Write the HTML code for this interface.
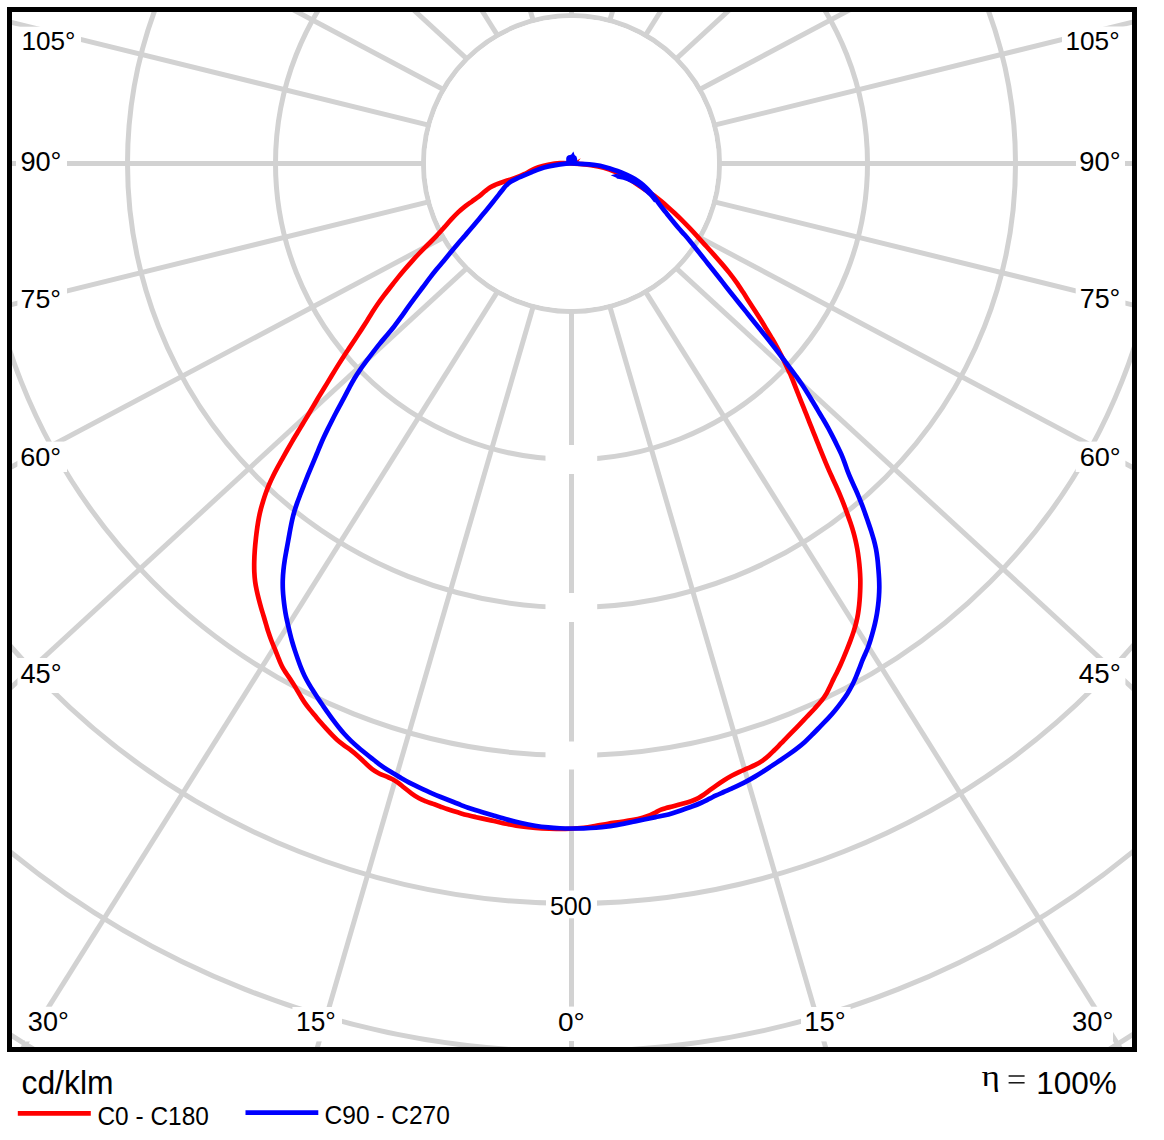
<!DOCTYPE html>
<html><head><meta charset="utf-8"><style>
html,body{margin:0;padding:0;background:#fff;}
body{width:1164px;height:1140px;overflow:hidden;position:relative;font-family:"Liberation Sans",sans-serif;}
svg{position:absolute;left:0;top:0;display:block;}
</style></head><body>
<svg width="1164" height="1140" viewBox="0 0 1164 1140">
<defs><clipPath id="cl"><rect x="12" y="12" width="1120" height="1035"/></clipPath></defs>
<rect x="0" y="0" width="1164" height="1140" fill="#fff"/>
<g clip-path="url(#cl)">
<g stroke="#d2d2d2" stroke-width="5" fill="none"><line x1="571.50" y1="311.50" x2="571.50" y2="1783.50"/><line x1="533.19" y1="306.46" x2="119.08" y2="1728.30"/><line x1="497.50" y1="291.67" x2="-302.50" y2="1566.46"/><line x1="466.85" y1="268.15" x2="-664.52" y2="1309.01"/><line x1="443.33" y1="237.50" x2="-942.31" y2="973.50"/><line x1="428.54" y1="201.81" x2="-1116.94" y2="582.79"/><line x1="423.50" y1="163.50" x2="-1176.50" y2="163.50"/><line x1="428.54" y1="125.19" x2="-1116.94" y2="-255.79"/><line x1="443.33" y1="89.50" x2="-942.31" y2="-646.50"/><line x1="466.85" y1="58.85" x2="-664.52" y2="-982.01"/><line x1="497.50" y1="35.33" x2="-302.50" y2="-1239.46"/><line x1="533.19" y1="20.54" x2="119.08" y2="-1401.30"/><line x1="571.50" y1="15.50" x2="571.50" y2="-1456.50"/><line x1="609.81" y1="20.54" x2="1023.92" y2="-1401.30"/><line x1="645.50" y1="35.33" x2="1445.50" y2="-1239.46"/><line x1="676.15" y1="58.85" x2="1807.52" y2="-982.01"/><line x1="699.67" y1="89.50" x2="2085.31" y2="-646.50"/><line x1="714.46" y1="125.19" x2="2259.94" y2="-255.79"/><line x1="719.50" y1="163.50" x2="2319.50" y2="163.50"/><line x1="714.46" y1="201.81" x2="2259.94" y2="582.79"/><line x1="699.67" y1="237.50" x2="2085.31" y2="973.50"/><line x1="676.15" y1="268.15" x2="1807.52" y2="1309.01"/><line x1="645.50" y1="291.67" x2="1445.50" y2="1566.46"/><line x1="609.81" y1="306.46" x2="1023.92" y2="1728.30"/><circle cx="571.5" cy="163.5" r="148.0"/><circle cx="571.5" cy="163.5" r="296.0"/><circle cx="571.5" cy="163.5" r="444.0"/><circle cx="571.5" cy="163.5" r="592.0"/><circle cx="571.5" cy="163.5" r="740.0"/><circle cx="571.5" cy="163.5" r="888.0"/><circle cx="571.5" cy="163.5" r="1036.0"/></g>
<circle cx="571.5" cy="163.5" r="145.5" fill="#fff"/>
<g fill="#fff"><rect x="16.0" y="26.7" width="65.0" height="30.3"/><rect x="16.0" y="146.0" width="51.0" height="31.0"/><rect x="17.4" y="283.0" width="49.6" height="31.0"/><rect x="17.4" y="441.6" width="49.6" height="30.4"/><rect x="17.5" y="658.0" width="49.5" height="35.0"/><rect x="1062.0" y="26.5" width="64.0" height="30.5"/><rect x="1076.0" y="146.0" width="49.0" height="31.0"/><rect x="1075.7" y="283.0" width="49.7" height="31.0"/><rect x="1075.7" y="441.6" width="49.7" height="30.4"/><rect x="1075.7" y="658.0" width="49.7" height="35.0"/><rect x="25.0" y="1006.7" width="55.0" height="34.8"/><rect x="292.4" y="1007.0" width="49.6" height="34.4"/><rect x="544.0" y="1006.6" width="48.0" height="34.4"/><rect x="801.0" y="1007.0" width="49.6" height="34.4"/><rect x="1063.0" y="1006.7" width="50.0" height="34.8"/><rect x="545.5" y="445.0" width="51.7" height="29.0"/><rect x="545.5" y="593.0" width="51.7" height="29.0"/><rect x="545.5" y="741.5" width="51.7" height="28.0"/><rect x="546.0" y="890.5" width="51.0" height="27.8"/></g>
<g fill="#000"><text transform="translate(21.44 49.63) scale(0.9804 1)" font-size="26.62" font-family="Liberation Sans">105°</text><text transform="translate(20.38 170.83) scale(1.0054 1)" font-size="27.04" font-family="Liberation Sans">90°</text><text transform="translate(20.56 307.64) scale(1.0089 1)" font-size="26.48" font-family="Liberation Sans">75°</text><text transform="translate(20.25 466.44) scale(1.0224 1)" font-size="26.48" font-family="Liberation Sans">60°</text><text transform="translate(20.42 682.73) scale(1.0175 1)" font-size="26.76" font-family="Liberation Sans">45°</text><text transform="translate(1065.43 49.54) scale(1.0002 1)" font-size="26.20" font-family="Liberation Sans">105°</text><text transform="translate(1079.37 170.83) scale(1.0107 1)" font-size="27.04" font-family="Liberation Sans">90°</text><text transform="translate(1079.76 307.83) scale(0.9984 1)" font-size="26.90" font-family="Liberation Sans">75°</text><text transform="translate(1079.64 466.44) scale(1.0251 1)" font-size="26.48" font-family="Liberation Sans">60°</text><text transform="translate(1078.81 682.73) scale(1.0358 1)" font-size="26.76" font-family="Liberation Sans">45°</text><text transform="translate(27.82 1030.63) scale(1.0124 1)" font-size="26.76" font-family="Liberation Sans">30°</text><text transform="translate(296.03 1030.83) scale(0.9811 1)" font-size="26.76" font-family="Liberation Sans">15°</text><text transform="translate(557.88 1030.54) scale(1.0601 1)" font-size="26.48" font-family="Liberation Sans">0°</text><text transform="translate(804.24 1030.73) scale(1.0246 1)" font-size="26.76" font-family="Liberation Sans">15°</text><text transform="translate(1072.10 1030.73) scale(1.0256 1)" font-size="26.76" font-family="Liberation Sans">30°</text><text transform="translate(549.90 914.53) scale(0.9433 1)" font-size="26.62" font-family="Liberation Sans">500</text></g>
<path d="M571.00 163.30 C567.67 163.17 563.84 162.94 560.00 163.20 C556.16 163.46 551.57 164.19 547.97 164.85 C544.38 165.51 541.23 166.22 538.45 167.15 C535.67 168.08 533.69 169.22 531.30 170.40 C528.91 171.58 526.61 173.04 524.12 174.23 C521.64 175.41 518.91 176.55 516.40 177.50 C513.89 178.45 511.42 179.16 509.07 179.95 C506.73 180.74 504.53 181.46 502.30 182.25 C500.07 183.04 497.75 183.84 495.70 184.70 C493.65 185.56 491.76 186.30 489.97 187.40 C488.19 188.50 486.82 189.80 485.00 191.30 C483.18 192.80 481.17 194.71 479.02 196.38 C476.88 198.04 474.42 199.64 472.10 201.30 C469.78 202.96 467.44 204.48 465.10 206.32 C462.76 208.17 460.42 210.15 458.08 212.38 C455.73 214.60 453.37 217.11 451.02 219.65 C448.68 222.19 446.34 225.01 444.00 227.62 C441.66 230.24 439.20 233.00 437.00 235.35 C434.80 237.70 432.72 239.79 430.77 241.75 C428.83 243.71 427.27 245.17 425.33 247.12 C423.38 249.08 421.30 251.18 419.10 253.50 C416.90 255.83 414.43 258.50 412.10 261.07 C409.77 263.65 407.43 266.26 405.10 268.98 C402.77 271.69 400.44 274.49 398.10 277.38 C395.76 280.26 393.42 283.29 391.08 286.30 C388.73 289.31 386.30 292.39 384.02 295.42 C381.75 298.46 379.41 301.62 377.40 304.52 C375.39 307.43 373.69 310.16 371.98 312.85 C370.26 315.54 368.86 317.88 367.10 320.68 C365.34 323.47 363.40 326.52 361.40 329.62 C359.40 332.73 357.17 336.17 355.10 339.30 C353.03 342.43 350.96 345.45 348.98 348.43 C346.99 351.40 345.08 354.22 343.18 357.17 C341.27 360.12 339.42 363.06 337.52 366.12 C335.62 369.19 333.57 372.61 331.77 375.58 C329.98 378.54 328.27 381.41 326.75 383.90 C325.23 386.39 324.12 388.14 322.67 390.50 C321.23 392.86 319.69 395.35 318.07 398.05 C316.46 400.75 314.69 403.80 313.00 406.67 C311.31 409.55 309.65 412.38 307.93 415.28 C306.20 418.17 304.41 421.10 302.65 424.02 C300.89 426.95 299.11 429.87 297.35 432.80 C295.59 435.73 293.78 438.69 292.07 441.60 C290.37 444.51 288.73 447.38 287.10 450.25 C285.48 453.12 283.92 455.96 282.32 458.82 C280.73 461.69 279.09 464.59 277.55 467.45 C276.01 470.31 274.48 473.18 273.10 475.98 C271.72 478.77 270.42 481.51 269.25 484.23 C268.08 486.94 267.06 489.56 266.07 492.27 C265.09 494.99 264.19 497.73 263.32 500.50 C262.46 503.27 261.62 506.05 260.88 508.92 C260.13 511.80 259.47 514.68 258.88 517.72 C258.28 520.77 257.81 523.85 257.32 527.20 C256.84 530.55 256.39 534.04 255.97 537.80 C255.56 541.56 255.11 545.80 254.83 549.75 C254.54 553.70 254.33 557.80 254.25 561.50 C254.17 565.20 254.18 568.63 254.32 571.95 C254.47 575.27 254.71 578.35 255.10 581.40 C255.49 584.45 256.06 587.27 256.68 590.23 C257.29 593.18 258.02 596.13 258.77 599.10 C259.53 602.07 260.37 605.15 261.20 608.05 C262.03 610.95 262.94 613.77 263.75 616.50 C264.56 619.23 265.30 621.80 266.07 624.40 C266.85 627.00 267.52 629.50 268.38 632.10 C269.23 634.70 270.15 637.29 271.18 639.97 C272.20 642.66 273.40 645.51 274.50 648.23 C275.60 650.94 276.81 653.87 277.77 656.28 C278.74 658.68 279.48 660.77 280.30 662.67 C281.12 664.58 281.69 665.90 282.70 667.70 C283.71 669.50 284.97 671.36 286.38 673.50 C287.78 675.64 289.54 678.12 291.12 680.55 C292.71 682.98 294.37 685.59 295.90 688.10 C297.43 690.61 298.84 693.20 300.30 695.62 C301.76 698.05 303.13 700.38 304.67 702.62 C306.22 704.87 307.85 706.94 309.57 709.10 C311.30 711.26 313.16 713.40 315.00 715.60 C316.84 717.80 318.76 720.16 320.60 722.30 C322.44 724.44 324.23 726.48 326.02 728.45 C327.82 730.43 329.48 732.23 331.35 734.15 C333.23 736.07 335.16 738.09 337.27 739.95 C339.39 741.81 341.72 743.56 344.02 745.30 C346.32 747.04 348.73 748.57 351.08 750.38 C353.42 752.18 355.76 754.08 358.10 756.15 C360.44 758.22 362.77 760.64 365.10 762.80 C367.43 764.96 369.77 767.32 372.10 769.10 C374.43 770.88 376.76 772.25 379.10 773.48 C381.44 774.70 383.90 775.48 386.13 776.45 C388.35 777.42 390.50 778.23 392.48 779.28 C394.45 780.32 396.00 781.29 397.98 782.70 C399.95 784.11 402.01 785.92 404.30 787.73 C406.59 789.53 409.27 791.79 411.73 793.55 C414.18 795.31 416.63 796.96 419.02 798.27 C421.42 799.59 423.73 800.49 426.08 801.42 C428.42 802.36 430.76 803.04 433.10 803.88 C435.44 804.71 437.77 805.57 440.10 806.42 C442.43 807.27 444.77 808.16 447.10 808.98 C449.43 809.79 451.76 810.58 454.10 811.33 C456.44 812.07 458.78 812.77 461.13 813.42 C463.47 814.08 465.88 814.70 468.18 815.27 C470.47 815.85 472.47 816.35 474.90 816.90 C477.32 817.45 479.55 817.91 482.73 818.60 C485.90 819.29 490.13 820.17 493.98 821.02 C497.82 821.87 502.09 822.92 505.77 823.70 C509.46 824.47 512.38 825.09 516.10 825.67 C519.83 826.26 523.81 826.76 528.12 827.22 C532.44 827.69 537.29 828.16 541.98 828.45 C546.66 828.74 551.47 828.92 556.23 828.98 C560.98 829.03 565.91 828.98 570.50 828.77 C575.09 828.57 579.50 828.23 583.75 827.75 C588.00 827.27 591.96 826.54 596.00 825.88 C600.04 825.21 604.00 824.40 608.00 823.75 C612.00 823.10 616.01 822.60 620.02 822.00 C624.04 821.40 628.31 820.85 632.08 820.15 C635.84 819.45 639.60 818.64 642.60 817.82 C645.60 817.01 647.90 816.17 650.10 815.25 C652.30 814.33 654.00 813.22 655.83 812.30 C657.65 811.38 659.32 810.40 661.02 809.70 C662.73 809.00 664.14 808.62 666.05 808.08 C667.96 807.53 669.90 807.08 672.48 806.40 C675.05 805.72 678.44 804.85 681.52 803.97 C684.61 803.10 688.20 802.15 691.00 801.17 C693.80 800.20 696.22 799.17 698.33 798.10 C700.43 797.03 701.89 795.94 703.65 794.73 C705.41 793.51 706.88 792.28 708.90 790.80 C710.93 789.32 713.33 787.54 715.80 785.83 C718.27 784.11 721.07 782.17 723.70 780.50 C726.33 778.82 728.97 777.22 731.60 775.77 C734.23 774.33 736.87 773.04 739.50 771.83 C742.13 770.61 744.77 769.62 747.40 768.47 C750.03 767.32 752.77 766.24 755.30 764.92 C757.83 763.61 760.33 762.16 762.60 760.58 C764.87 758.99 766.95 757.15 768.90 755.42 C770.85 753.70 772.66 751.85 774.30 750.25 C775.94 748.65 777.15 747.42 778.73 745.80 C780.30 744.18 781.76 742.62 783.78 740.55 C785.79 738.48 788.31 735.94 790.80 733.40 C793.29 730.86 796.07 728.03 798.70 725.30 C801.33 722.57 803.97 719.76 806.60 717.00 C809.23 714.24 812.00 711.45 814.50 708.72 C817.00 706.00 819.57 703.25 821.60 700.65 C823.63 698.05 825.26 695.57 826.70 693.12 C828.14 690.68 829.08 688.37 830.23 686.00 C831.38 683.63 832.45 681.25 833.60 678.90 C834.75 676.55 835.99 674.25 837.12 671.92 C838.26 669.60 839.32 667.40 840.42 664.98 C841.52 662.55 842.60 660.05 843.72 657.38 C844.85 654.70 846.05 651.79 847.20 648.92 C848.35 646.06 849.52 643.10 850.60 640.18 C851.68 637.25 852.74 634.33 853.68 631.40 C854.61 628.47 855.48 625.55 856.20 622.62 C856.93 619.70 857.53 616.80 858.03 613.88 C858.52 610.95 858.87 608.03 859.18 605.10 C859.48 602.17 859.69 599.23 859.88 596.30 C860.06 593.37 860.20 590.45 860.27 587.52 C860.35 584.60 860.38 581.84 860.30 578.77 C860.22 575.71 860.04 572.49 859.78 569.12 C859.51 565.76 859.12 561.94 858.70 558.58 C858.28 555.21 857.81 551.99 857.27 548.92 C856.74 545.86 856.18 543.10 855.50 540.18 C854.82 537.25 854.05 534.33 853.20 531.40 C852.35 528.47 851.36 525.55 850.38 522.62 C849.39 519.70 848.35 516.80 847.30 513.88 C846.25 510.95 845.22 508.03 844.10 505.10 C842.98 502.17 841.82 499.23 840.60 496.30 C839.38 493.37 838.07 490.42 836.78 487.52 C835.48 484.62 834.13 481.72 832.85 478.90 C831.57 476.08 830.31 473.37 829.10 470.62 C827.89 467.88 826.74 465.23 825.57 462.45 C824.41 459.67 823.26 456.80 822.10 453.93 C820.94 451.05 819.77 448.10 818.60 445.17 C817.43 442.25 816.27 439.32 815.10 436.40 C813.93 433.47 812.77 430.55 811.60 427.62 C810.43 424.70 809.27 421.80 808.10 418.88 C806.93 415.95 805.77 413.03 804.60 410.10 C803.43 407.17 802.25 404.25 801.08 401.30 C799.90 398.35 798.75 395.47 797.55 392.42 C796.35 389.37 795.17 386.21 793.88 383.00 C792.58 379.79 791.20 376.35 789.80 373.17 C788.40 370.00 786.92 366.93 785.48 363.93 C784.03 360.93 782.61 358.10 781.12 355.17 C779.64 352.25 778.15 349.32 776.55 346.40 C774.95 343.47 773.22 340.55 771.50 337.62 C769.78 334.70 768.00 331.80 766.23 328.88 C764.45 325.95 762.70 323.03 760.88 320.10 C759.05 317.17 757.21 314.28 755.30 311.30 C753.39 308.32 751.45 305.36 749.42 302.20 C747.40 299.04 745.30 295.64 743.15 292.32 C741.00 289.01 738.80 285.55 736.50 282.30 C734.20 279.05 731.84 275.96 729.38 272.85 C726.91 269.74 724.30 266.66 721.70 263.62 C719.10 260.59 716.43 257.58 713.80 254.62 C711.17 251.67 708.53 248.78 705.90 245.88 C703.27 242.97 700.62 240.03 698.00 237.18 C695.38 234.32 692.76 231.47 690.15 228.72 C687.54 225.98 684.96 223.31 682.35 220.70 C679.74 218.09 676.99 215.43 674.48 213.05 C671.96 210.67 669.43 208.38 667.25 206.43 C665.07 204.48 663.23 202.89 661.38 201.35 C659.52 199.81 657.85 198.47 656.12 197.18 C654.40 195.88 652.69 194.73 651.00 193.57 C649.31 192.42 647.65 191.36 646.00 190.25 C644.35 189.14 642.75 188.02 641.12 186.93 C639.50 185.83 638.00 184.84 636.25 183.70 C634.50 182.56 632.65 181.36 630.62 180.10 C628.60 178.84 626.62 177.50 624.12 176.15 C621.63 174.80 619.07 173.36 615.67 171.97 C612.27 170.59 607.85 168.97 603.73 167.85 C599.60 166.72 594.88 165.87 590.92 165.22 C586.97 164.58 583.32 164.32 580.00 164.00 C576.68 163.68 574.33 163.43 571.00 163.30 Z" fill="none" stroke="#ff0000" stroke-width="4.7" stroke-linejoin="round" stroke-linecap="round"/>
<path d="M575.6 161.2 L580.8 158.3 L577.6 162.2 Z" fill="#ff0000"/>
<path d="M571.00 163.40 C567.67 163.50 563.74 163.90 560.00 164.40 C556.26 164.90 551.95 165.65 548.55 166.40 C545.15 167.15 542.38 167.97 539.60 168.93 C536.82 169.88 534.45 171.04 531.88 172.12 C529.30 173.21 526.65 174.38 524.12 175.45 C521.60 176.52 518.98 177.50 516.73 178.55 C514.47 179.60 512.35 180.63 510.60 181.78 C508.85 182.92 507.51 184.20 506.25 185.43 C504.99 186.65 504.23 187.70 503.05 189.15 C501.87 190.60 500.80 192.00 499.15 194.10 C497.50 196.20 495.35 199.00 493.17 201.72 C491.00 204.45 488.47 207.57 486.12 210.43 C483.78 213.28 481.44 216.06 479.10 218.88 C476.76 221.69 474.43 224.54 472.10 227.30 C469.77 230.06 467.43 232.74 465.10 235.43 C462.77 238.11 460.46 240.63 458.10 243.40 C455.74 246.17 453.33 249.13 450.93 252.05 C448.52 254.97 446.04 258.05 443.65 260.93 C441.26 263.80 438.94 266.42 436.60 269.27 C434.26 272.13 431.96 275.03 429.62 278.07 C427.29 281.12 424.94 284.40 422.60 287.52 C420.26 290.65 417.93 293.69 415.60 296.82 C413.27 299.96 410.97 303.02 408.60 306.32 C406.23 309.62 403.82 313.23 401.38 316.62 C398.93 320.02 396.38 323.56 393.93 326.70 C391.48 329.84 389.06 332.59 386.67 335.45 C384.29 338.31 381.94 341.01 379.62 343.88 C377.31 346.74 375.00 349.74 372.78 352.62 C370.55 355.51 368.40 358.37 366.30 361.20 C364.20 364.03 362.13 366.78 360.17 369.62 C358.22 372.47 356.35 375.30 354.57 378.25 C352.80 381.20 351.13 384.31 349.50 387.32 C347.87 390.34 346.30 393.48 344.77 396.35 C343.25 399.23 341.82 401.89 340.38 404.57 C338.93 407.26 337.54 409.79 336.12 412.48 C334.71 415.16 333.30 417.93 331.90 420.70 C330.50 423.47 329.07 426.30 327.70 429.10 C326.33 431.90 324.96 434.71 323.68 437.52 C322.39 440.34 321.13 443.31 320.00 445.98 C318.87 448.64 317.87 451.15 316.90 453.50 C315.93 455.85 315.15 457.73 314.18 460.07 C313.20 462.42 312.14 464.87 311.02 467.55 C309.91 470.23 308.66 473.22 307.48 476.15 C306.29 479.07 305.10 482.09 303.92 485.10 C302.75 488.11 301.54 491.19 300.40 494.20 C299.26 497.21 298.10 500.22 297.07 503.15 C296.05 506.08 295.10 508.93 294.27 511.78 C293.45 514.62 292.77 517.27 292.10 520.20 C291.43 523.13 290.87 526.11 290.25 529.35 C289.63 532.59 289.02 536.21 288.40 539.65 C287.77 543.09 287.11 546.61 286.50 550.00 C285.89 553.39 285.26 556.67 284.75 560.00 C284.24 563.33 283.78 566.67 283.45 570.00 C283.12 573.33 282.88 576.70 282.77 580.00 C282.67 583.30 282.71 586.59 282.85 589.77 C282.99 592.96 283.29 596.05 283.60 599.10 C283.91 602.15 284.30 605.15 284.73 608.05 C285.15 610.95 285.62 613.75 286.15 616.50 C286.68 619.25 287.27 621.83 287.90 624.58 C288.52 627.32 289.19 630.11 289.90 632.98 C290.61 635.84 291.35 638.85 292.18 641.75 C293.00 644.65 293.91 647.51 294.85 650.38 C295.79 653.24 296.78 656.08 297.80 658.95 C298.82 661.83 299.84 664.79 300.98 667.62 C302.11 670.46 303.31 673.27 304.62 675.98 C305.94 678.68 307.38 681.27 308.88 683.88 C310.37 686.48 312.00 689.06 313.60 691.60 C315.20 694.14 316.87 696.67 318.50 699.12 C320.13 701.58 321.77 703.93 323.40 706.30 C325.03 708.67 326.63 710.98 328.30 713.32 C329.97 715.67 331.67 718.05 333.40 720.38 C335.13 722.70 336.87 724.98 338.70 727.25 C340.53 729.52 342.35 731.76 344.40 734.02 C346.45 736.29 348.74 738.65 351.02 740.85 C353.31 743.05 355.75 745.20 358.10 747.23 C360.45 749.25 362.77 751.10 365.10 753.00 C367.43 754.90 369.77 756.76 372.10 758.60 C374.43 760.44 376.76 762.30 379.10 764.02 C381.44 765.75 383.78 767.38 386.13 768.92 C388.47 770.47 390.86 771.89 393.18 773.30 C395.49 774.71 397.84 776.10 400.02 777.38 C402.21 778.65 404.24 779.84 406.30 780.98 C408.36 782.11 410.25 783.10 412.38 784.17 C414.50 785.25 416.74 786.34 419.02 787.42 C421.31 788.51 423.73 789.64 426.08 790.70 C428.42 791.76 430.76 792.80 433.10 793.80 C435.44 794.80 437.77 795.75 440.10 796.70 C442.43 797.65 444.77 798.57 447.10 799.50 C449.43 800.43 451.76 801.37 454.10 802.30 C456.44 803.23 458.78 804.19 461.13 805.10 C463.47 806.01 465.83 806.95 468.18 807.78 C470.52 808.60 472.68 809.29 475.20 810.08 C477.72 810.86 480.15 811.52 483.32 812.47 C486.50 813.43 490.25 814.61 494.27 815.80 C498.30 816.99 502.98 818.42 507.48 819.62 C511.97 820.83 516.64 822.03 521.23 823.05 C525.81 824.07 530.50 824.99 534.98 825.72 C539.45 826.46 543.94 827.03 548.10 827.45 C552.26 827.88 556.02 828.10 559.92 828.27 C563.82 828.45 567.53 828.49 571.50 828.50 C575.47 828.51 579.67 828.48 583.75 828.35 C587.83 828.22 591.96 828.06 596.00 827.73 C600.04 827.39 604.00 826.92 608.00 826.35 C612.00 825.78 616.01 825.06 620.02 824.33 C624.04 823.59 628.06 822.76 632.08 821.95 C636.09 821.14 640.18 820.25 644.10 819.45 C648.02 818.65 652.12 817.85 655.58 817.15 C659.03 816.45 662.01 815.91 664.83 815.25 C667.64 814.59 669.69 814.01 672.48 813.17 C675.26 812.34 678.29 811.32 681.52 810.22 C684.76 809.12 688.58 807.82 691.88 806.57 C695.17 805.32 698.47 803.99 701.33 802.73 C704.18 801.46 706.54 800.19 709.00 798.97 C711.46 797.76 713.62 796.58 716.08 795.42 C718.53 794.27 721.11 793.17 723.70 792.02 C726.29 790.88 728.97 789.76 731.60 788.58 C734.23 787.39 736.87 786.20 739.50 784.92 C742.13 783.65 744.77 782.32 747.40 780.90 C750.03 779.48 752.67 777.95 755.30 776.38 C757.93 774.80 760.52 773.14 763.20 771.42 C765.88 769.71 768.59 767.91 771.35 766.10 C774.11 764.29 776.99 762.43 779.77 760.58 C782.56 758.72 785.30 756.90 788.08 754.95 C790.85 753.00 793.61 751.05 796.40 748.88 C799.19 746.70 802.05 744.38 804.80 741.90 C807.55 739.42 810.23 736.67 812.90 734.00 C815.57 731.33 818.23 728.53 820.80 725.90 C823.37 723.27 825.93 720.77 828.30 718.20 C830.67 715.63 832.83 713.13 835.00 710.50 C837.17 707.87 839.27 705.16 841.30 702.40 C843.33 699.64 845.40 696.78 847.20 693.92 C849.00 691.07 850.64 688.16 852.12 685.27 C853.61 682.39 854.88 679.46 856.10 676.60 C857.32 673.74 858.38 670.83 859.45 668.10 C860.52 665.37 861.52 662.62 862.50 660.23 C863.48 657.83 864.43 655.80 865.33 653.73 C866.22 651.65 867.02 650.01 867.88 647.75 C868.73 645.49 869.57 642.90 870.42 640.18 C871.27 637.45 872.18 634.33 872.97 631.40 C873.77 628.47 874.52 625.55 875.17 622.62 C875.83 619.70 876.40 616.80 876.90 613.88 C877.40 610.95 877.81 608.03 878.15 605.10 C878.49 602.17 878.76 599.23 878.95 596.30 C879.14 593.37 879.28 590.49 879.30 587.52 C879.32 584.56 879.23 581.67 879.08 578.52 C878.92 575.38 878.65 571.99 878.38 568.62 C878.10 565.26 877.80 561.61 877.40 558.33 C877.00 555.04 876.56 551.95 875.98 548.92 C875.39 545.90 874.68 543.10 873.90 540.18 C873.12 537.25 872.20 534.33 871.28 531.40 C870.35 528.47 869.33 525.55 868.33 522.62 C867.33 519.70 866.31 516.80 865.27 513.88 C864.24 510.95 863.22 508.03 862.10 505.10 C860.98 502.17 859.80 499.23 858.58 496.30 C857.35 493.37 856.01 490.40 854.73 487.52 C853.44 484.65 852.08 481.80 850.88 479.02 C849.67 476.25 848.57 473.62 847.52 470.88 C846.48 468.13 845.66 465.40 844.60 462.58 C843.54 459.75 842.44 456.83 841.17 453.93 C839.91 451.02 838.43 448.10 837.00 445.17 C835.57 442.25 834.10 439.32 832.60 436.40 C831.10 433.47 829.60 430.55 828.00 427.62 C826.40 424.70 824.69 421.80 822.97 418.88 C821.26 415.95 819.48 413.03 817.73 410.10 C815.98 407.17 814.24 404.24 812.47 401.30 C810.71 398.36 808.96 395.37 807.12 392.45 C805.29 389.53 803.39 386.59 801.48 383.77 C799.56 380.96 797.61 378.29 795.62 375.55 C793.64 372.81 791.67 370.17 789.55 367.32 C787.43 364.48 785.17 361.49 782.90 358.48 C780.62 355.46 778.24 352.28 775.90 349.25 C773.56 346.22 771.22 343.23 768.88 340.27 C766.53 337.32 764.17 334.43 761.83 331.50 C759.48 328.57 757.14 325.63 754.80 322.70 C752.46 319.77 750.13 316.85 747.80 313.93 C745.47 311.00 743.12 308.08 740.80 305.17 C738.47 302.27 736.17 299.42 733.85 296.50 C731.52 293.58 729.21 290.67 726.85 287.68 C724.49 284.68 722.08 281.56 719.70 278.52 C717.32 275.49 714.94 272.46 712.58 269.48 C710.21 266.49 707.87 263.57 705.52 260.62 C703.18 257.68 700.84 254.74 698.50 251.80 C696.16 248.86 693.77 245.79 691.50 243.00 C689.23 240.21 686.87 237.40 684.85 235.07 C682.83 232.75 681.02 230.89 679.40 229.05 C677.78 227.21 676.54 225.74 675.15 224.05 C673.76 222.36 672.46 220.65 671.08 218.93 C669.69 217.20 668.22 215.40 666.82 213.67 C665.43 211.95 664.04 210.24 662.73 208.55 C661.41 206.86 660.19 205.26 658.92 203.55 C657.66 201.84 656.50 200.08 655.15 198.28 C653.80 196.47 652.38 194.51 650.83 192.70 C649.27 190.89 647.52 189.03 645.80 187.40 C644.08 185.77 642.28 184.25 640.52 182.90 C638.77 181.55 637.04 180.42 635.27 179.32 C633.51 178.23 631.79 177.28 629.92 176.32 C628.06 175.37 626.15 174.45 624.08 173.57 C622.00 172.70 619.75 171.88 617.50 171.07 C615.25 170.27 612.90 169.50 610.60 168.78 C608.30 168.05 606.01 167.31 603.73 166.72 C601.44 166.14 599.29 165.66 596.88 165.28 C594.46 164.89 592.04 164.67 589.23 164.43 C586.41 164.18 583.04 163.97 580.00 163.80 C576.96 163.63 574.33 163.30 571.00 163.40 Z" fill="none" stroke="#0000ff" stroke-width="4.7" stroke-linejoin="round" stroke-linecap="round"/>
<path d="M566.2 162 L566.2 158.5 Q566.5 155.2 570 155 L571.3 154.6 L573.4 151.6 L574.6 155 Q577 156 577.2 159 L577.2 162 Z" fill="#0000ff"/>
<path d="M610.7 175.3 L617.5 173.4 L617.5 178.3 Z" fill="#0000ff"/>
<path d="M617 176.3 C620 176.8 622 177.2 623.8 177.7 C626.5 178.6 630 180 632 181 C634 182 636 183 637 183.5 C640 185.2 642.5 187.2 645.3 189.7 C647 191.2 648.5 192.6 650 194 C652 196 654 198.5 656 201.2" fill="none" stroke="#0000ff" stroke-width="4.5"/>
</g>
<rect x="9.5" y="9.5" width="1125" height="1040" fill="none" stroke="#000" stroke-width="5"/>
<line x1="17.8" y1="1113.4" x2="90.8" y2="1113.4" stroke="#ff0000" stroke-width="4.8"/>
<line x1="245.5" y1="1112.7" x2="318.3" y2="1112.7" stroke="#0000ff" stroke-width="4.8"/>
<rect x="1008.6" y="1075.3" width="16" height="1.4" fill="#000"/><rect x="1008.6" y="1082.1" width="16" height="1.4" fill="#000"/>
<g fill="#000"><text transform="translate(21.47 1093.90) scale(0.9745 1)" font-size="32.69" font-family="Liberation Sans">cd/klm</text><text transform="translate(97.48 1124.54) scale(0.9228 1)" font-size="26.48" font-family="Liberation Sans">C0 - C180</text><text transform="translate(324.58 1124.43) scale(0.9203 1)" font-size="26.62" font-family="Liberation Sans">C90 - C270</text><text transform="translate(981.47 1086.35) scale(1.2104 1)" font-size="29.05" font-family="Liberation Serif">η</text><text transform="translate(1036.24 1093.68) scale(0.9856 1)" font-size="31.97" font-family="Liberation Sans">100%</text></g>
</svg>
</body></html>
